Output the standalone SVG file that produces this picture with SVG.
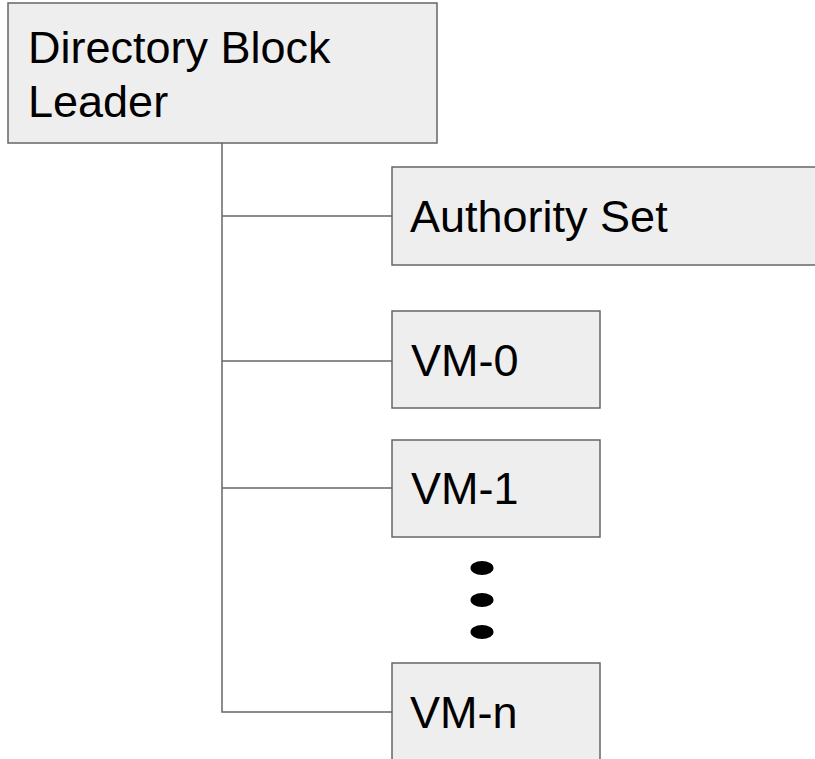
<svg xmlns="http://www.w3.org/2000/svg" width="815" height="759" viewBox="0 0 815 759">
<style>
.box{fill:#eeeeee;stroke:#666666;stroke-width:1.5}
.lbl{font-family:"Liberation Sans",Arial,sans-serif;font-size:45px;fill:#000000}
.conn{fill:none;stroke:#666666;stroke-width:1.5}
.dot{fill:#000000}
</style>
<rect width="815" height="759" fill="#ffffff"/>
<g id="connectors">
<path class="conn" d="M222,143 V712 H392"/>
<path class="conn" d="M222,216 H392"/>
<path class="conn" d="M222,361 H392"/>
<path class="conn" d="M222,488 H392"/>
</g>
<g id="leader">
<rect class="box" x="8" y="3" width="429" height="140"/>
<text class="lbl" x="28" y="63">Directory Block</text>
<text class="lbl" x="28" y="117">Leader</text>
</g>
<g id="authority-set">
<rect class="box" x="392" y="167" width="440" height="98"/>
<text class="lbl" x="410" y="232">Authority Set</text>
</g>
<g id="vm-0">
<rect class="box" x="392" y="311" width="208" height="97"/>
<text class="lbl" x="411" y="376">VM-0</text>
</g>
<g id="vm-1">
<rect class="box" x="392" y="440" width="208" height="97"/>
<text class="lbl" x="411" y="504">VM-1</text>
</g>
<g id="ellipsis">
<ellipse class="dot" cx="482" cy="568" rx="11.5" ry="7"/>
<ellipse class="dot" cx="482" cy="600" rx="11.5" ry="7"/>
<ellipse class="dot" cx="482" cy="632" rx="11.5" ry="7"/>
</g>
<g id="vm-n">
<rect class="box" x="392" y="663" width="208" height="110"/>
<text class="lbl" x="410" y="728">VM-n</text>
</g>
</svg>
